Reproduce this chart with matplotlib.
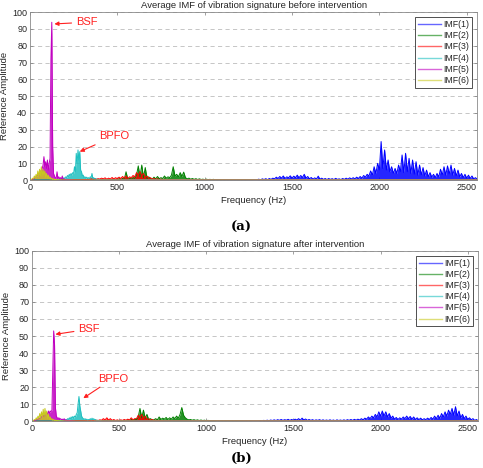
import numpy as np
import matplotlib.pyplot as plt

# ---- data (amplitudes on a regular frequency grid) ----
labels = ['IMF(1)', 'IMF(2)', 'IMF(3)', 'IMF(4)', 'IMF(5)', 'IMF(6)']
colors = ['#0000ff', '#008000', '#ff0000', '#1fc0c0', '#c000c0', '#c8c81e']
f_max = 2560

# (start Hz, step Hz) of each IMF's grid
grid = [(1300, 10), (500, 10), (300, 10), (150, 5), (0, 5), (0, 5)]

before_imf1 = [0.3, 0.6, 0.2, 0.8, 0.4, 0.9, 0.3, 1.0, 0.5, 1.2,
               0.8, 1.8, 1.0, 2.2, 1.2, 2.5, 1.0, 2.0, 1.4, 2.6,
               1.2, 2.4, 1.5, 3.0, 1.4, 2.8, 1.6, 3.5, 1.2, 2.2,
               0.8, 1.6, 0.6, 1.4, 0.7, 2.4, 0.6, 1.2, 0.5, 1.0,
               0.4, 1.0, 0.5, 0.9, 0.4, 1.1, 0.5, 0.8, 0.4, 1.0,
               0.5, 1.2, 0.6, 1.4, 0.7, 1.5, 0.8, 1.8, 1.0, 2.2,
               1.2, 2.8, 1.8, 3.5, 2.5, 5.5, 3.0, 8.0, 4.0, 10.0,
               6.0, 23.0, 7.0, 18.0, 6.0, 12.0, 5.0, 8.0, 4.0, 7.0,
               4.0, 9.0, 5.0, 15.0, 4.5, 16.0, 5.0, 13.0, 4.0, 12.0,
               3.5, 11.0, 3.0, 9.0, 3.0, 7.5, 2.5, 6.0, 2.0, 4.5,
               1.8, 3.5, 1.5, 4.0, 2.0, 6.5, 3.0, 8.0, 3.0, 8.5,
               3.5, 9.0, 3.0, 7.0, 2.5, 6.0, 2.0, 4.0, 1.5, 3.5,
               1.2, 3.0, 1.0, 2.5, 0.8, 1.5, 0.6]
before_imf2 = [0.3, 0.8, 0.4, 1.0, 0.5, 5.0, 0.6, 1.2, 0.5, 1.5,
               1.0, 3.0, 8.5, 2.0, 9.0, 1.5, 7.5, 1.0, 2.0, 0.8,
               0.6, 1.8, 0.8, 2.2, 0.9, 1.5, 1.0, 2.5, 1.2, 2.0,
               1.5, 3.0, 8.0, 2.5, 3.5, 2.0, 4.5, 2.2, 4.8, 1.5,
               0.8, 1.2, 0.6, 1.0, 0.5, 0.9, 0.4, 0.8, 0.4, 0.6,
               0.3, 0.6, 0.3, 0.5, 0.3, 0.5, 0.2, 0.4, 0.2, 0.4,
               0.2, 0.4, 0.2, 0.3, 0.2, 0.3, 0.2, 0.3, 0.2, 0.3,
               0.2, 0.3, 0.2, 0.3, 0.2, 0.2, 0.2, 0.2, 0.1, 0.1]
before_imf3 = [0.2, 0.4, 0.3, 0.6, 0.4, 0.8, 0.5, 1.0, 0.6, 0.9,
               0.7, 1.2, 0.8, 1.4, 0.6, 1.2, 0.7, 1.6, 0.8, 1.5,
               0.9, 1.8, 1.0, 2.2, 1.2, 2.5, 1.0, 2.0, 1.5, 2.8,
               2.0, 4.5, 3.0, 5.0, 2.5, 4.0, 1.5, 2.5, 1.0, 1.5,
               0.6, 1.0, 0.5, 0.8, 0.4, 0.6, 0.3, 0.5, 0.3, 0.4, 0.2]
before_imf4 = [0.2, 0.4, 0.3, 0.6, 0.5, 0.8, 0.6, 1.0, 0.8, 1.5,
               1.0, 2.0, 1.5, 2.8, 2.0, 3.5, 2.5, 4.0, 3.0, 4.5,
               4.0, 8.0, 5.0, 16.0, 10.0, 18.0, 12.0, 17.0, 6.0, 5.0,
               2.5, 3.0, 1.5, 2.0, 1.2, 1.8, 1.0, 1.5, 0.8, 2.0,
               1.5, 4.0, 1.0, 1.5, 0.6, 1.0, 0.5, 0.6, 0.3, 0.4, 0.2]
before_imf5 = [0.0, 0.2, 0.3, 0.5, 0.8, 1.0, 1.5, 2.0, 2.5, 3.0,
               3.5, 4.0, 5.0, 6.0, 7.0, 9.0, 14.0, 8.0, 11.0, 7.0,
               12.0, 6.0, 10.0, 13.0, 72.0, 94.0, 20.0, 4.0, 2.5, 1.5,
               1.0, 5.0, 1.0, 2.0, 0.8, 1.5, 0.6, 2.5, 0.5, 0.8,
               0.4, 0.6, 0.3, 0.5, 0.3, 0.4, 0.2, 0.3, 0.2, 0.2, 0.1]
before_imf6 = [0.0, 0.3, 0.5, 1.2, 0.8, 2.5, 1.0, 3.5, 1.5, 5.5,
               2.0, 6.5, 2.5, 8.0, 2.0, 6.5, 3.0, 5.5, 1.5, 4.0,
               1.0, 3.0, 0.8, 2.0, 0.6, 1.2, 0.4, 0.8, 0.3, 0.5,
               0.2, 0.3, 0.2, 0.2, 0.1, 0.2, 0.1, 0.1, 0.1, 0.1, 0.1]

after_imf1 = [0.2, 0.4, 0.2, 0.5, 0.3, 0.6, 0.3, 0.7, 0.4, 0.8,
              0.4, 0.9, 0.5, 1.0, 0.5, 0.9, 0.6, 1.1, 0.5, 1.0,
              0.6, 1.2, 0.7, 1.5, 0.6, 1.8, 0.7, 1.3, 0.5, 1.0,
              0.5, 0.9, 0.4, 0.8, 0.5, 0.9, 0.4, 0.8, 0.4, 0.7,
              0.4, 0.8, 0.4, 0.7, 0.3, 0.8, 0.4, 0.7, 0.4, 0.8,
              0.4, 0.9, 0.5, 1.0, 0.5, 1.1, 0.6, 1.2, 0.7, 1.5,
              0.8, 1.8, 1.2, 2.5, 1.5, 3.0, 2.0, 4.0, 2.5, 5.5,
              3.0, 6.0, 3.0, 5.5, 2.5, 4.5, 1.8, 3.0, 1.2, 2.2,
              1.0, 2.0, 1.2, 2.5, 1.5, 3.0, 1.5, 2.8, 1.2, 2.5,
              1.0, 2.0, 0.9, 1.8, 0.8, 1.5, 0.9, 1.8, 1.0, 2.2,
              1.2, 3.0, 1.5, 3.5, 1.8, 4.5, 2.5, 5.5, 3.0, 6.5,
              4.0, 7.5, 3.5, 8.5, 3.0, 6.0, 2.0, 4.0, 1.5, 3.0,
              1.0, 2.0, 0.8, 1.5, 0.5, 1.0, 0.3]
after_imf2 = [0.2, 0.5, 0.3, 0.6, 0.3, 0.8, 0.4, 1.0, 0.5, 1.2,
              0.8, 2.5, 7.5, 2.0, 6.5, 1.5, 4.0, 1.0, 1.5, 0.8,
              0.8, 1.5, 0.8, 2.5, 1.0, 1.8, 1.2, 2.2, 1.0, 2.0,
              1.2, 2.5, 1.5, 3.0, 1.8, 4.0, 8.0, 3.5, 2.0, 1.2,
              0.8, 1.0, 0.6, 0.9, 0.5, 0.8, 0.4, 0.7, 0.4, 0.6,
              0.3, 0.5, 0.3, 0.4, 0.3, 0.4, 0.2, 0.3, 0.2, 0.3,
              0.2, 0.3, 0.2, 0.3, 0.2, 0.3, 0.2, 0.3, 0.2, 0.2,
              0.2, 0.2, 0.1, 0.2, 0.1, 0.2, 0.1, 0.1, 0.1, 0.1]
after_imf3 = [0.2, 0.3, 0.2, 0.4, 0.3, 0.5, 0.3, 0.6, 0.4, 0.8,
              0.6, 1.5, 0.8, 2.0, 0.7, 1.5, 0.5, 1.0, 0.4, 0.8,
              0.4, 0.8, 0.5, 1.0, 0.6, 1.2, 0.7, 2.0, 0.8, 1.5,
              1.5, 3.5, 2.0, 4.0, 1.5, 3.0, 1.0, 1.5, 0.6, 1.0,
              0.4, 0.6, 0.3, 0.5, 0.3, 0.4, 0.2, 0.3, 0.2, 0.3, 0.2]
after_imf4 = [0.2, 0.4, 0.3, 0.5, 0.4, 0.6, 0.5, 0.8, 0.6, 1.0,
              0.8, 1.5, 1.0, 2.0, 1.2, 2.5, 1.5, 2.8, 1.8, 3.0,
              2.5, 4.0, 5.0, 10.0, 14.5, 9.0, 6.0, 3.0, 2.0, 1.5,
              1.0, 1.5, 0.8, 1.2, 0.6, 1.0, 0.8, 1.5, 0.6, 1.8,
              0.8, 1.5, 0.6, 1.0, 0.4, 0.6, 0.3, 0.5, 0.3, 0.4, 0.2]
after_imf5 = [0.0, 0.2, 0.3, 0.4, 0.6, 0.8, 1.0, 1.2, 1.5, 1.8,
              2.0, 2.5, 3.0, 3.5, 2.5, 4.0, 3.0, 5.0, 4.0, 6.0,
              4.5, 6.0, 5.5, 6.5, 30.0, 53.0, 45.0, 8.0, 3.0, 2.0,
              1.5, 2.0, 1.0, 1.5, 0.8, 1.2, 0.6, 1.5, 0.5, 0.8,
              0.4, 0.6, 0.3, 0.5, 0.3, 0.4, 0.2, 0.3, 0.2, 0.2, 0.1]
after_imf6 = [0.0, 0.3, 0.5, 1.0, 0.8, 2.0, 1.0, 3.0, 1.5, 4.5,
              2.0, 5.5, 2.5, 7.0, 2.0, 7.5, 2.5, 6.0, 1.5, 4.0,
              1.0, 2.5, 0.8, 1.5, 0.5, 1.0, 0.4, 0.6, 0.3, 0.4,
              0.2, 0.3, 0.2, 0.2, 0.1, 0.2, 0.1, 0.1, 0.1, 0.1, 0.1]

before = [before_imf1, before_imf2, before_imf3, before_imf4, before_imf5, before_imf6]
after = [after_imf1, after_imf2, after_imf3, after_imf4, after_imf5, after_imf6]

titles = ['Average IMF of vibration signature before intervention',
          'Average IMF of vibration signature after intervention']
captions = ['(a)', '(b)']
# (label, arrow tip (Hz, amp), text position (Hz, amp))
notes_before = [('BSF', (140, 93), (262, 94)), ('BPFO', (285, 17), (395, 26))]
notes_after = [('BSF', (135, 51), (265, 54)), ('BPFO', (295, 13.5), (378, 25))]

txt = '#262626'
plt.rcParams['font.family'] = 'Liberation Sans'
plt.rcParams['font.size'] = 6.5

fig = plt.figure(figsize=(4.83, 4.68), dpi=100)
axes = [fig.add_axes([0.062, 0.615, 0.926, 0.359]),
        fig.add_axes([0.066, 0.100, 0.924, 0.364])]
cap_y = [0.515, 0.021]

for ax, data, title, notes, cap, cy in zip(axes, [before, after], titles,
                                            [notes_before, notes_after], captions, cap_y):
    for vals, (f0, df), c, lab in zip(data, grid, colors, labels):
        f = f0 + df * np.arange(len(vals))
        # pad to the full frequency range with the edge values
        f = np.r_[0, f, f_max]
        a = np.r_[vals[0], vals, vals[-1]]
        # dense spectrum look: shade under the trace, then the trace itself
        ax.fill_between(f, 0, a, color=c, lw=0, alpha=0.85)
        ax.plot(f, a, color=c, lw=0.7, label=lab)

    ax.set_xlim(0, f_max)
    ax.set_ylim(0, 100)
    ax.set_xticks([0, 500, 1000, 1500, 2000, 2500])
    ax.set_yticks(np.arange(0, 101, 10))
    ax.grid(axis='y', ls=(0, (5, 4)), color='#bdbdbd', lw=0.6)
    ax.set_axisbelow(True)
    ax.tick_params(direction='in', top=True, right=True, length=2.5,
                   width=0.5, colors='#7a7a7a', labelcolor=txt, pad=2)
    for s in ax.spines.values():
        s.set_color('#8a8a8a')
        s.set_linewidth(0.6)
    ax.set_title(title, fontsize=6.8, color=txt, pad=3)
    ax.set_xlabel('Frequency (Hz)', fontsize=6.8, color=txt, labelpad=3)
    ax.set_ylabel('Reference Amplitude', fontsize=6.8, color=txt, labelpad=2)

    leg = ax.legend(loc='upper right', fontsize=6.3, handlelength=2.6,
                    handletextpad=0.3, borderpad=0.3, labelspacing=0.25,
                    fancybox=False, framealpha=1, borderaxespad=0.6)
    leg.get_frame().set_edgecolor('#333333')
    leg.get_frame().set_linewidth(0.6)
    for t in leg.get_texts():
        t.set_color(txt)
    for h in leg.get_lines():
        h.set_linewidth(1.0)
        h.set_alpha(0.6)

    for name, tip, pos in notes:
        ax.annotate(name, xy=tip, xytext=pos, color='#ff2020', fontsize=8,
                    va='center', ha='left',
                    arrowprops=dict(arrowstyle='-|>', color='#ff2020', lw=0.8,
                                    mutation_scale=6, shrinkA=1, shrinkB=0))

    fig.text(0.5, cy, cap, ha='center', va='center', fontsize=9.5,
             fontweight='bold', family='DejaVu Serif', color='black')

fig.savefig('out.png', dpi=100)
